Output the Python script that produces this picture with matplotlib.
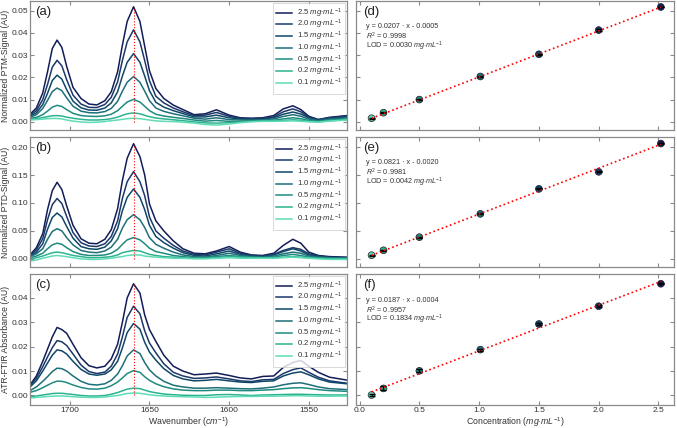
import numpy as np
import matplotlib
matplotlib.use('Agg')
import matplotlib.pyplot as plt

plt.rcParams['font.family'] = ['Liberation Sans', 'DejaVu Sans']
plt.rcParams['mathtext.fontset'] = 'custom'
plt.rcParams['mathtext.rm'] = 'Liberation Sans'
plt.rcParams['mathtext.it'] = 'Liberation Sans:italic'
plt.rcParams['mathtext.bf'] = 'Liberation Sans:bold'

# ---------------- data ----------------
wavenumber = [1725, 1721, 1717, 1714, 1711, 1708, 1705, 1702, 1698, 1693,
              1688, 1683, 1678, 1674, 1670, 1667, 1664, 1660, 1656, 1653,
              1650, 1646, 1641, 1635, 1629, 1622, 1615, 1608, 1600, 1593,
              1586, 1579, 1572, 1566, 1560, 1555, 1550, 1544, 1537, 1526]

conc_labels = ['2.5', '2.0', '1.5', '1.0', '0.5', '0.2', '0.1']

# (a) PTM
ptm_25 = [0.0034, 0.0062, 0.0130, 0.0225, 0.0330, 0.0368, 0.0335, 0.0250, 0.0155, 0.0105,
          0.0080, 0.0076, 0.0095, 0.0135, 0.0225, 0.0345, 0.0452, 0.0518, 0.0452, 0.0340,
          0.0230, 0.0150, 0.0105, 0.0075, 0.0055, 0.0032, 0.0036, 0.0054, 0.0030, 0.0018,
          0.0016, 0.0018, 0.0028, 0.0058, 0.0072, 0.0055, 0.0025, 0.0010, 0.0020, 0.0028]
ptm_20 = [0.0030, 0.0050, 0.0100, 0.0168, 0.0246, 0.0277, 0.0252, 0.0190, 0.0120, 0.0080,
          0.0065, 0.0064, 0.0078, 0.0110, 0.0180, 0.0276, 0.0360, 0.0414, 0.0360, 0.0276,
          0.0185, 0.0115, 0.0085, 0.0062, 0.0045, 0.0028, 0.0030, 0.0042, 0.0025, 0.0015,
          0.0014, 0.0015, 0.0022, 0.0045, 0.0058, 0.0045, 0.0022, 0.0010, 0.0018, 0.0026]
ptm_15 = [0.0025, 0.0040, 0.0078, 0.0128, 0.0186, 0.0210, 0.0192, 0.0145, 0.0093, 0.0063,
          0.0053, 0.0052, 0.0062, 0.0085, 0.0135, 0.0206, 0.0268, 0.0307, 0.0268, 0.0206,
          0.0140, 0.0088, 0.0066, 0.0050, 0.0037, 0.0022, 0.0022, 0.0030, 0.0018, 0.0012,
          0.0011, 0.0012, 0.0018, 0.0034, 0.0044, 0.0035, 0.0018, 0.0008, 0.0015, 0.0022]
ptm_10 = [0.0020, 0.0032, 0.0060, 0.0096, 0.0136, 0.0152, 0.0140, 0.0108, 0.0070, 0.0048,
          0.0041, 0.0040, 0.0046, 0.0060, 0.0092, 0.0138, 0.0178, 0.0204, 0.0178, 0.0138,
          0.0095, 0.0062, 0.0047, 0.0036, 0.0027, 0.0016, 0.0012, 0.0018, 0.0010, 0.0008,
          0.0008, 0.0009, 0.0013, 0.0024, 0.0032, 0.0025, 0.0012, 0.0005, 0.0012, 0.0018]
ptm_05 = [0.0015, 0.0020, 0.0032, 0.0048, 0.0066, 0.0074, 0.0069, 0.0055, 0.0038, 0.0028,
          0.0025, 0.0024, 0.0027, 0.0034, 0.0050, 0.0070, 0.0089, 0.0101, 0.0089, 0.0070,
          0.0050, 0.0034, 0.0026, 0.0020, 0.0015, 0.0008, 0.0003, 0.0006, 0.0002, 0.0002,
          0.0004, 0.0005, 0.0007, 0.0013, 0.0018, 0.0014, 0.0006, 0.0002, 0.0008, 0.0012]
ptm_02 = [0.0010, 0.0014, 0.0019, 0.0023, 0.0027, 0.0028, 0.0026, 0.0021, 0.0016, 0.0011,
          0.0008, 0.0008, 0.0010, 0.0014, 0.0021, 0.0029, 0.0036, 0.0040, 0.0036, 0.0029,
          0.0023, 0.0017, 0.0013, 0.0009, 0.0005, 0.0000, -0.0005, -0.0006, -0.0004, -0.0001,
          0.0002, 0.0003, 0.0004, 0.0006, 0.0009, 0.0007, 0.0002, 0.0000, 0.0005, 0.0009]
ptm_01 = [0.0008, 0.0010, 0.0012, 0.0014, 0.0015, 0.0015, 0.0013, 0.0008, 0.0003, -0.0001,
          -0.0003, -0.0002, 0.0001, 0.0005, 0.0008, 0.0011, 0.0014, 0.0016, 0.0014, 0.0011,
          0.0008, 0.0004, 0.0002, 0.0001, -0.0002, -0.0006, -0.0012, -0.0015, -0.0010, -0.0004,
          0.0000, 0.0002, 0.0002, 0.0003, 0.0004, 0.0002, 0.0000, -0.0002, 0.0003, 0.0008]

# (b) PTD
ptd_25 = [0.007, 0.020, 0.045, 0.088, 0.122, 0.137, 0.124, 0.095, 0.060, 0.036,
          0.028, 0.027, 0.035, 0.052, 0.090, 0.140, 0.180, 0.206, 0.183, 0.150,
          0.098, 0.068, 0.050, 0.032, 0.018, 0.010, 0.009, 0.014, 0.022, 0.012,
          0.007, 0.006, 0.010, 0.024, 0.035, 0.028, 0.012, 0.006, 0.004, 0.003]
ptd_20 = [0.006, 0.016, 0.036, 0.070, 0.097, 0.108, 0.099, 0.076, 0.047, 0.029,
          0.023, 0.022, 0.027, 0.040, 0.068, 0.108, 0.138, 0.156, 0.138, 0.113,
          0.075, 0.050, 0.037, 0.024, 0.014, 0.008, 0.007, 0.012, 0.018, 0.010,
          0.006, 0.005, 0.008, 0.015, 0.020, 0.017, 0.009, 0.005, 0.003, 0.002]
ptd_15 = [0.005, 0.012, 0.027, 0.053, 0.074, 0.082, 0.075, 0.058, 0.037, 0.022,
          0.018, 0.017, 0.021, 0.032, 0.054, 0.086, 0.110, 0.125, 0.110, 0.088,
          0.060, 0.040, 0.029, 0.019, 0.011, 0.006, 0.005, 0.009, 0.014, 0.008,
          0.005, 0.004, 0.007, 0.013, 0.018, 0.014, 0.007, 0.004, 0.002, 0.002]
ptd_10 = [0.004, 0.009, 0.018, 0.035, 0.049, 0.054, 0.050, 0.038, 0.025, 0.015,
          0.012, 0.011, 0.014, 0.021, 0.035, 0.055, 0.070, 0.079, 0.070, 0.056,
          0.038, 0.026, 0.019, 0.012, 0.007, 0.004, 0.003, 0.006, 0.010, 0.006,
          0.004, 0.003, 0.005, 0.009, 0.012, 0.010, 0.005, 0.003, 0.002, 0.001]
ptd_05 = [0.002, 0.005, 0.010, 0.018, 0.025, 0.028, 0.026, 0.020, 0.013, 0.008,
          0.006, 0.006, 0.007, 0.010, 0.017, 0.026, 0.034, 0.038, 0.034, 0.027,
          0.019, 0.013, 0.010, 0.006, 0.004, 0.002, 0.002, 0.004, 0.006, 0.004,
          0.003, 0.002, 0.003, 0.006, 0.008, 0.006, 0.003, 0.002, 0.001, 0.001]
ptd_02 = [0.000, 0.002, 0.005, 0.008, 0.011, 0.012, 0.011, 0.009, 0.006, 0.004,
          0.002, 0.002, 0.003, 0.004, 0.007, 0.011, 0.013, 0.015, 0.014, 0.011,
          0.008, 0.006, 0.004, 0.003, 0.002, 0.001, 0.001, 0.002, 0.004, 0.003,
          0.002, 0.002, 0.002, 0.003, 0.004, 0.003, 0.002, 0.001, 0.000, 0.000]
ptd_01 = [-0.004, -0.002, 0.001, 0.003, 0.005, 0.006, 0.005, 0.004, 0.002, 0.000,
          -0.001, -0.001, 0.000, 0.001, 0.003, 0.004, 0.006, 0.007, 0.007, 0.005,
          0.004, 0.003, 0.002, 0.001, 0.001, 0.000, 0.000, 0.001, 0.002, 0.001,
          0.001, 0.001, 0.001, 0.002, 0.003, 0.002, 0.001, 0.000, -0.001, -0.001]

# (c) ATR-FTIR
atr_25 = [0.0043, 0.0080, 0.0140, 0.0190, 0.0240, 0.0279, 0.0270, 0.0255, 0.0210, 0.0155,
          0.0122, 0.0113, 0.0120, 0.0150, 0.0210, 0.0300, 0.0400, 0.0458, 0.0420, 0.0330,
          0.0270, 0.0222, 0.0165, 0.0120, 0.0100, 0.0085, 0.0088, 0.0092, 0.0082, 0.0072,
          0.0068, 0.0078, 0.0080, 0.0115, 0.0135, 0.0144, 0.0120, 0.0095, 0.0075, 0.0063]
atr_20 = [0.0040, 0.0070, 0.0118, 0.0158, 0.0196, 0.0225, 0.0220, 0.0205, 0.0170, 0.0125,
          0.0098, 0.0090, 0.0096, 0.0120, 0.0170, 0.0240, 0.0320, 0.0366, 0.0335, 0.0265,
          0.0215, 0.0175, 0.0130, 0.0095, 0.0080, 0.0070, 0.0072, 0.0076, 0.0068, 0.0060,
          0.0057, 0.0064, 0.0066, 0.0090, 0.0106, 0.0113, 0.0095, 0.0075, 0.0060, 0.0050]
atr_15 = [0.0035, 0.0060, 0.0100, 0.0133, 0.0165, 0.0187, 0.0183, 0.0170, 0.0140, 0.0107,
          0.0088, 0.0083, 0.0088, 0.0105, 0.0140, 0.0195, 0.0258, 0.0295, 0.0272, 0.0218,
          0.0178, 0.0145, 0.0110, 0.0082, 0.0068, 0.0060, 0.0062, 0.0066, 0.0060, 0.0055,
          0.0053, 0.0058, 0.0060, 0.0080, 0.0092, 0.0097, 0.0085, 0.0068, 0.0055, 0.0048]
atr_10 = [0.0020, 0.0035, 0.0058, 0.0077, 0.0098, 0.0112, 0.0110, 0.0100, 0.0080, 0.0058,
          0.0046, 0.0043, 0.0048, 0.0062, 0.0088, 0.0122, 0.0162, 0.0187, 0.0172, 0.0135,
          0.0105, 0.0080, 0.0058, 0.0042, 0.0035, 0.0030, 0.0030, 0.0032, 0.0030, 0.0028,
          0.0027, 0.0030, 0.0035, 0.0044, 0.0050, 0.0052, 0.0045, 0.0035, 0.0028, 0.0024]
atr_05 = [0.0013, 0.0020, 0.0032, 0.0042, 0.0052, 0.0059, 0.0058, 0.0053, 0.0043, 0.0033,
          0.0027, 0.0026, 0.0030, 0.0040, 0.0055, 0.0072, 0.0090, 0.0102, 0.0095, 0.0077,
          0.0062, 0.0048, 0.0036, 0.0027, 0.0022, 0.0020, 0.0020, 0.0022, 0.0022, 0.0020,
          0.0020, 0.0022, 0.0024, 0.0028, 0.0031, 0.0032, 0.0029, 0.0024, 0.0020, 0.0017]
atr_02 = [-0.0005, -0.0002, 0.0002, 0.0005, 0.0008, 0.0009, 0.0009, 0.0007, 0.0004, 0.0000,
          -0.0002, -0.0002, 0.0000, 0.0005, 0.0012, 0.0019, 0.0026, 0.0030, 0.0028, 0.0022,
          0.0016, 0.0011, 0.0006, 0.0003, 0.0001, 0.0000, 0.0000, 0.0003, 0.0004, 0.0002,
          0.0000, 0.0002, 0.0003, 0.0004, 0.0005, 0.0005, 0.0004, 0.0003, 0.0002, 0.0002]
atr_01 = [-0.0010, -0.0008, -0.0006, -0.0004, -0.0003, -0.0002, -0.0002, -0.0003, -0.0005, -0.0007,
          -0.0008, -0.0008, -0.0006, -0.0003, 0.0000, 0.0004, 0.0008, 0.0010, 0.0009, 0.0006,
          0.0003, 0.0000, -0.0002, -0.0004, -0.0005, -0.0006, -0.0008, -0.0007, -0.0005, -0.0004,
          -0.0004, -0.0003, -0.0003, -0.0002, -0.0001, -0.0001, -0.0002, -0.0003, -0.0003, -0.0002]

# calibration data (d)-(f)
concentration = [0.1, 0.2, 0.5, 1.01, 1.5, 2.0, 2.52]
ptm_peak = [0.0016, 0.0041, 0.0100, 0.0204, 0.0304, 0.0413, 0.0517]
ptm_err = [0.0002, 0.0003, 0.0003, 0.0003, 0.0003, 0.0003, 0.0002]
ptd_peak = [0.0065, 0.0153, 0.0388, 0.0805, 0.1252, 0.1557, 0.2063]
ptd_err = [0.0010, 0.0010, 0.0010, 0.0010, 0.0010, 0.0012, 0.0010]
atr_peak = [0.0002, 0.0029, 0.0101, 0.0188, 0.0293, 0.0366, 0.0458]
atr_err = [0.0003, 0.0008, 0.0006, 0.0004, 0.0003, 0.0003, 0.0003]

fit_slope = [0.0207, 0.0821, 0.0187]
fit_intercept = [-0.0005, -0.0020, -0.0004]
unit = r'$mg{\cdot}mL^{-1}$'
fit_text = [["y = 0.0207 · x - 0.0005", "$R^2$ = 0.9998", "LOD = 0.0030 " + unit],
            ["y = 0.0821 · x - 0.0020", "$R^2$ = 0.9981", "LOD = 0.0042 " + unit],
            ["y = 0.0187 · x - 0.0004", "$R^2$ = 0.9957", "LOD = 0.1834 " + unit]]

spectra = [[ptm_25, ptm_20, ptm_15, ptm_10, ptm_05, ptm_02, ptm_01],
           [ptd_25, ptd_20, ptd_15, ptd_10, ptd_05, ptd_02, ptd_01],
           [atr_25, atr_20, atr_15, atr_10, atr_05, atr_02, atr_01]]
peaks = [ptm_peak, ptd_peak, atr_peak]
errs = [ptm_err, ptd_err, atr_err]

ylabels = ["Normalized PTM-Signal (AU)", "Normalized PTD-Signal (AU)", "ATR-FTIR Absorbance (AU)"]
left_tags = ['(a)', '(b)', '(c)']
right_tags = ['(d)', '(e)', '(f)']
ylims = [(-0.0037, 0.0544), (-0.0146, 0.218), (-0.0039, 0.0498)]
yticks = [[0.00, 0.01, 0.02, 0.03, 0.04, 0.05],
          [0.00, 0.05, 0.10, 0.15, 0.20],
          [0.00, 0.01, 0.02, 0.03, 0.04]]

# ---------------- style ----------------
line_colors = ['#121d58', '#1d3868', '#0f4769', '#1e6f79', '#1f8a80', '#2db390', '#5fdcb6']
spine_col = '#8a8a8a'
W, H = 677, 428

fig = plt.figure(figsize=(W / 100, H / 100), dpi=100)
rows = [(1, 130), (137, 267), (274, 405)]


def style(ax):
    for s in ax.spines.values():
        s.set_color(spine_col)
        s.set_linewidth(0.9)
    ax.tick_params(direction='in', top=True, right=True, length=3, width=0.8,
                   color=spine_col, labelcolor='#333333', labelsize=6.0, pad=1.5)


for i in range(3):
    top, bot = rows[i]
    axl = fig.add_axes([30 / W, 1 - bot / H, 317 / W, (bot - top) / H])
    axr = fig.add_axes([356 / W, 1 - bot / H, 318 / W, (bot - top) / H])

    # spectra
    for j, ys in enumerate(spectra[i]):
        axl.plot(wavenumber, ys, color=line_colors[j], lw=1.1,
                 label=conc_labels[j] + ' ' + unit)
    top_curve = spectra[i][0]
    k = wavenumber.index(1660)
    axl.vlines(1660, 0, top_curve[k], colors='red', linestyles=':', lw=0.8, zorder=5)
    axl.set_xlim(1725, 1526)
    axl.set_ylim(*ylims[i])
    axl.set_xticks([1700, 1650, 1600, 1550])
    axl.set_yticks(yticks[i])
    axl.set_yticklabels(['%.2f' % v for v in yticks[i]])
    axl.set_ylabel(ylabels[i], fontsize=6.2, color='#333333', labelpad=1)
    style(axl)
    leg = axl.legend(loc='upper right', fontsize=5.6, labelspacing=-0.2, handlelength=2.0,
                     handletextpad=0.6, borderpad=0.45, borderaxespad=0.25,
                     frameon=True, fancybox=False)
    leg.get_frame().set_edgecolor('#d0d0d0')
    leg.get_frame().set_linewidth(0.7)
    for t in leg.get_texts():
        t.set_color('#333333')
    axl.text(0.016, 0.965, left_tags[i], transform=axl.transAxes, fontsize=9.5,
             va='top', ha='left', color='#222222')

    # calibration
    pts_colors = line_colors[::-1]
    axr.scatter(concentration, peaks[i], c=pts_colors, s=24, edgecolors='#1a1a2a',
                linewidths=0.5, zorder=2)
    axr.errorbar(concentration, peaks[i], yerr=errs[i], fmt='none', ecolor='black',
                 elinewidth=1.0, capsize=2.5, capthick=1.0, zorder=3)
    xf = np.array([concentration[0], concentration[-1]])
    axr.plot(xf, fit_slope[i] * xf + fit_intercept[i], ls=':', color='red', lw=1.2, zorder=4)
    axr.set_xlim(-0.03, 2.63)
    axr.set_ylim(*ylims[i])
    axr.set_xticks([0.0, 0.5, 1.0, 1.5, 2.0, 2.5])
    axr.set_xticklabels(['0.0', '0.5', '1.0', '1.5', '2.0', '2.5'])
    axr.set_yticks(yticks[i])
    style(axr)
    axr.tick_params(labelleft=False)
    axr.text(0.022, 0.965, right_tags[i], transform=axr.transAxes, fontsize=9.5,
             va='top', ha='left', color='#222222')
    for n, ypos in enumerate([0.80, 0.725, 0.65]):
        axr.text(0.03, ypos, fit_text[i][n], transform=axr.transAxes, fontsize=5.2,
                 va='center', ha='left', color='#333333')

    if i < 2:
        axl.tick_params(labelbottom=False)
        axr.tick_params(labelbottom=False)
    else:
        axl.set_xlabel(r'Wavenumber ($cm^{-1}$)', fontsize=6.3, color='#333333', labelpad=1)
        axr.set_xlabel(r'Concentration ($mg{\cdot}mL^{-1}$)', fontsize=6.3, color='#333333',
                       labelpad=1)

fig.savefig('out.png', dpi=100)
